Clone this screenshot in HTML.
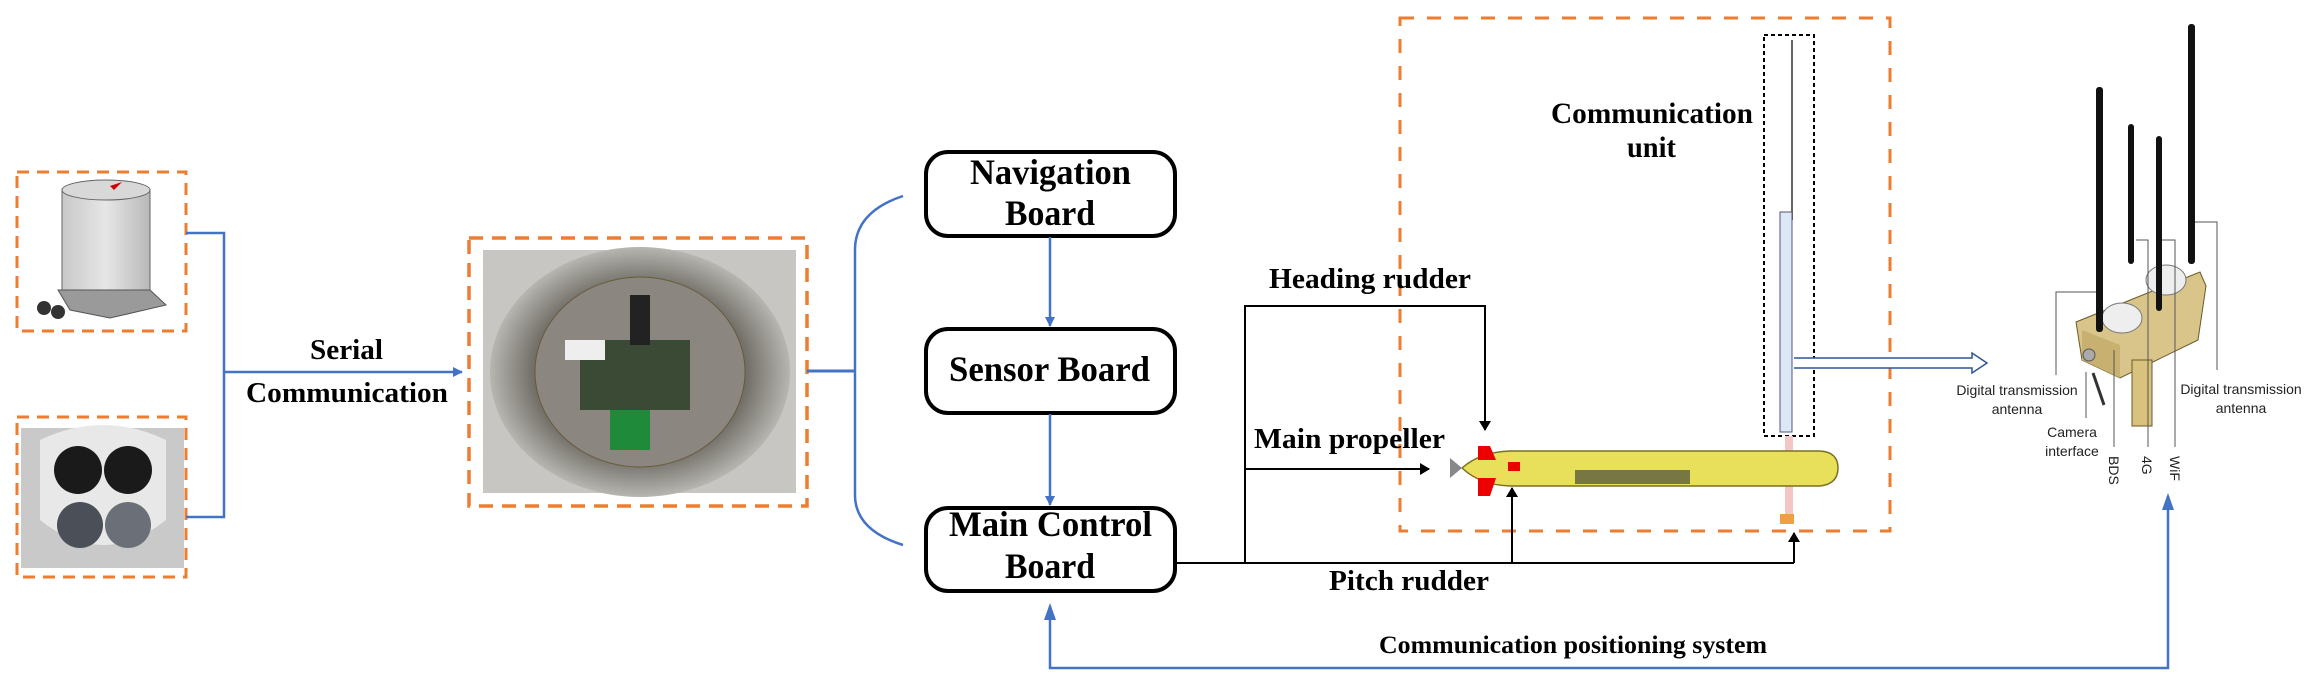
<!DOCTYPE html>
<html><head><meta charset="utf-8"><style>
html,body{margin:0;padding:0;background:#fff}
svg{display:block}
.t{font-family:"Liberation Serif",serif;font-weight:bold;fill:#000}
.s{font-family:"Liberation Sans",sans-serif;fill:#222;font-size:14px}
</style></head><body>
<svg width="2319" height="686" viewBox="0 0 2319 686" xmlns="http://www.w3.org/2000/svg">
<defs>
<marker id="ab" markerWidth="10" markerHeight="10" refX="9" refY="5" orient="auto" markerUnits="userSpaceOnUse"><path d="M0,0 L10,5 L0,10 Z" fill="#4472C4"/></marker>
<marker id="ak" markerWidth="10" markerHeight="12" refX="9" refY="6" orient="auto" markerUnits="userSpaceOnUse"><path d="M0,0 L10,6 L0,12 Z" fill="#000"/></marker>
<radialGradient id="met" cx="50%" cy="50%" r="50%"><stop offset="0" stop-color="#9a968c"/><stop offset="0.7" stop-color="#6f6c66"/><stop offset="1" stop-color="#b8b6b0"/></radialGradient>
<linearGradient id="cyl" x1="0" x2="1"><stop offset="0" stop-color="#c8c8c8"/><stop offset="0.5" stop-color="#e6e6e6"/><stop offset="1" stop-color="#b8b8b8"/></linearGradient>
</defs>

<rect x="17" y="172" width="169" height="159" fill="none" stroke="#ED7D31" stroke-width="3" stroke-dasharray="12,8"/>
<path d="M62,190 L150,190 L150,290 L62,290 Z" fill="url(#cyl)" stroke="#666" stroke-width="1"/>
<ellipse cx="106" cy="190" rx="44" ry="10" fill="#d8d8d8" stroke="#666"/>
<path d="M110,186 L122,182 L114,190 Z" fill="#c00"/>
<path d="M58,290 L150,290 L166,305 L110,318 L70,310 Z" fill="#9a9a9a" stroke="#555"/>
<circle cx="44" cy="308" r="7" fill="#333"/><circle cx="58" cy="312" r="7" fill="#333"/>

<rect x="17" y="417" width="169" height="160" fill="none" stroke="#ED7D31" stroke-width="3" stroke-dasharray="12,8"/>
<rect x="21" y="428" width="163" height="140" fill="#c9c9c9"/>
<path d="M40,440 Q103,410 166,440 L166,520 Q103,570 40,520 Z" fill="#e8e8e8"/>
<circle cx="78" cy="470" r="24" fill="#1a1a1a"/><circle cx="128" cy="470" r="24" fill="#1a1a1a"/>
<circle cx="80" cy="525" r="23" fill="#4a4f58"/><circle cx="128" cy="525" r="23" fill="#6b7078"/>

<path d="M186,233 L224,233 L224,517 L186,517" fill="none" stroke="#4472C4" stroke-width="2.5"/>
<line x1="224" y1="372" x2="462" y2="372" stroke="#4472C4" stroke-width="2.5" marker-end="url(#ab)"/>
<text class="t" x="310" y="359" font-size="29" textLength="73" lengthAdjust="spacingAndGlyphs">Serial</text>
<text class="t" x="246" y="402" font-size="29" textLength="202" lengthAdjust="spacingAndGlyphs">Communication</text>

<rect x="469" y="238" width="338" height="268" fill="none" stroke="#ED7D31" stroke-width="3.5" stroke-dasharray="14,9"/>
<rect x="483" y="250" width="313" height="243" fill="#c7c6c3"/>
<ellipse cx="640" cy="372" rx="150" ry="125" fill="url(#met)"/>
<ellipse cx="640" cy="372" rx="105" ry="95" fill="#8b8780" stroke="#6a5a3a" stroke-width="1"/>
<rect x="580" y="340" width="110" height="70" fill="#3a4a35"/>
<rect x="565" y="340" width="40" height="20" fill="#eee"/>
<rect x="630" y="295" width="20" height="50" fill="#222"/>
<rect x="610" y="410" width="40" height="40" fill="#1f8a3a"/>

<line x1="807" y1="371" x2="855" y2="371" stroke="#4472C4" stroke-width="3"/>
<path d="M903,196 Q855,212 855,250 L855,495 Q855,530 903,545" fill="none" stroke="#4472C4" stroke-width="2.5"/>

<rect x="926" y="152" width="249" height="84" rx="22" fill="#fff" stroke="#000" stroke-width="4"/>
<rect x="926" y="329" width="249" height="84" rx="22" fill="#fff" stroke="#000" stroke-width="4"/>
<rect x="926" y="508" width="249" height="83" rx="22" fill="#fff" stroke="#000" stroke-width="4"/>
<text class="t" x="970" y="184" font-size="36" textLength="161" lengthAdjust="spacingAndGlyphs">Navigation</text>
<text class="t" x="1005" y="225" font-size="36" textLength="90" lengthAdjust="spacingAndGlyphs">Board</text>
<text class="t" x="949" y="381" font-size="36" textLength="201" lengthAdjust="spacingAndGlyphs">Sensor Board</text>
<text class="t" x="949" y="536" font-size="36" textLength="203" lengthAdjust="spacingAndGlyphs">Main Control</text>
<text class="t" x="1005" y="578" font-size="36" textLength="90" lengthAdjust="spacingAndGlyphs">Board</text>
<line x1="1050" y1="237" x2="1050" y2="326" stroke="#4472C4" stroke-width="2.5" marker-end="url(#ab)"/>
<line x1="1050" y1="414" x2="1050" y2="505" stroke="#4472C4" stroke-width="2.5" marker-end="url(#ab)"/>

<path d="M2168,496 L2168,668 L1050,668 L1050,606" fill="none" stroke="#4472C4" stroke-width="2.5"/>
<path d="M1044,620 L1050,603 L1056,620 Z" fill="#4472C4"/>
<path d="M2162,510 L2168,493 L2174,510 Z" fill="#4472C4"/>
<text class="t" x="1379" y="653" font-size="25" textLength="388" lengthAdjust="spacingAndGlyphs">Communication positioning system</text>

<rect x="1400" y="18" width="490" height="513" fill="none" stroke="#ED7D31" stroke-width="3" stroke-dasharray="14,13"/>
<rect x="1764" y="35" width="50" height="401" fill="none" stroke="#000" stroke-width="2" stroke-dasharray="4,3"/>
<line x1="1792" y1="40" x2="1792" y2="220" stroke="#666" stroke-width="2"/>
<rect x="1780" y="212" width="12" height="220" fill="#dce8f5" stroke="#557" stroke-width="1"/>
<text class="t" x="1551" y="123" font-size="30" textLength="202" lengthAdjust="spacingAndGlyphs">Communication</text>
<text class="t" x="1627" y="157" font-size="30" textLength="49" lengthAdjust="spacingAndGlyphs">unit</text>

<rect x="1785" y="436" width="8" height="85" fill="#f4c7c7"/>
<rect x="1780" y="514" width="14" height="10" fill="#f0a040"/>
<path d="M1462,468 Q1480,452 1510,451 L1820,451 Q1838,452 1838,468 Q1838,484 1820,486 L1510,486 Q1480,485 1462,468 Z" fill="#e8e05a" stroke="#7a7020" stroke-width="1.5"/>
<rect x="1575" y="470" width="115" height="14" fill="#777744"/>
<path d="M1478,446 L1490,446 L1496,460 L1478,460 Z" fill="#e00"/>
<path d="M1478,478 L1496,478 L1490,496 L1478,496 Z" fill="#e00"/>
<rect x="1508" y="462" width="12" height="9" fill="#e00"/>
<path d="M1450,458 L1462,468 L1450,478 Z" fill="#888"/>

<path d="M1176,563 L1794,563" fill="none" stroke="#000" stroke-width="2"/>
<path d="M1245,563 L1245,306 L1485,306 L1485,430" fill="none" stroke="#000" stroke-width="2" marker-end="url(#ak)"/>
<line x1="1245" y1="469" x2="1429" y2="469" stroke="#000" stroke-width="2" marker-end="url(#ak)"/>
<line x1="1512" y1="563" x2="1512" y2="488" stroke="#000" stroke-width="2" marker-end="url(#ak)"/>
<line x1="1794" y1="563" x2="1794" y2="533" stroke="#000" stroke-width="2" marker-end="url(#ak)"/>
<text class="t" x="1269" y="288" font-size="29" textLength="202" lengthAdjust="spacingAndGlyphs">Heading rudder</text>
<text class="t" x="1254" y="448" font-size="29" textLength="191" lengthAdjust="spacingAndGlyphs">Main propeller</text>
<text class="t" x="1329" y="590" font-size="29" textLength="160" lengthAdjust="spacingAndGlyphs">Pitch rudder</text>

<path d="M1794,358 L1972,358 L1972,353 L1987,363 L1972,373 L1972,368 L1794,368" fill="#fff" stroke="#2f5597" stroke-width="1.5"/>

<path d="M2076,322 L2155,290 L2200,272 L2206,286 L2198,340 L2120,378 L2082,360 Z" fill="#d9c58a" stroke="#6b5a2a" stroke-width="1"/>
<path d="M2082,330 L2120,345 L2120,378 L2082,360 Z" fill="#c7b070"/>
<circle cx="2089" cy="355" r="6" fill="#aaa" stroke="#555"/>
<rect x="2132" y="360" width="20" height="66" fill="#d8c27e" stroke="#6b5a2a"/>
<ellipse cx="2122" cy="318" rx="20" ry="15" fill="#eee" stroke="#777"/>
<ellipse cx="2166" cy="280" rx="20" ry="15" fill="#eee" stroke="#777"/>
<line x1="2093" y1="373" x2="2104" y2="405" stroke="#333" stroke-width="3"/>
<rect x="2096" y="87" width="7" height="245" rx="3" fill="#111"/>
<rect x="2128" y="124" width="6" height="140" rx="3" fill="#111"/>
<rect x="2156" y="136" width="6" height="175" rx="3" fill="#111"/>
<rect x="2188" y="24" width="7" height="240" rx="3" fill="#111"/>
<g fill="none" stroke="#555" stroke-width="1">
<path d="M2096,292 L2056,292 L2056,375"/>
<path d="M2195,222 L2217,222 L2217,370"/>
<path d="M2136,240 L2148,240 L2148,447"/>
<path d="M2162,240 L2175,240 L2175,447"/>
<path d="M2114,350 L2114,447"/>
<path d="M2086,372 L2086,418"/>
</g>
<text class="s" x="2017" y="395" text-anchor="middle">Digital transmission</text>
<text class="s" x="2017" y="414" text-anchor="middle">antenna</text>
<text class="s" x="2241" y="394" text-anchor="middle">Digital transmission</text>
<text class="s" x="2241" y="413" text-anchor="middle">antenna</text>
<text class="s" x="2072" y="437" text-anchor="middle">Camera</text>
<text class="s" x="2072" y="456" text-anchor="middle">interface</text>
<text class="s" transform="translate(2109,456) rotate(90)">BDS</text>
<text class="s" transform="translate(2142,456) rotate(90)">4G</text>
<text class="s" transform="translate(2170,456) rotate(90)">WiF</text>
</svg>
</body></html>
